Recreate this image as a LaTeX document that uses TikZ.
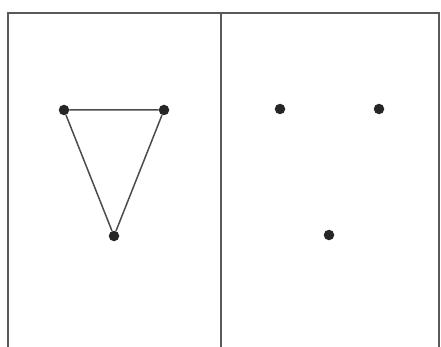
\documentclass[tikz,border=0pt]{standalone}
\begin{document}
\begin{tikzpicture}[x=1pt,y=-1pt,
  frame/.style={draw=black!65,line width=1.8pt},
  edge/.style={draw=black!70,line width=1.5pt},
  dot/.style={circle,fill=black!85,inner sep=0pt,minimum size=10.5pt}]
\useasboundingbox (0,0) rectangle (441,347);
\fill[white] (0,0) rectangle (441,347);
\coordinate (tl) at (8,13);
\coordinate (tr) at (439,13);
\coordinate (bl) at (8,350);
\coordinate (br) at (439,350);
\coordinate (mt) at (221,13);
\coordinate (mb) at (221,350);
\draw[frame] (bl) -- (tl) -- (tr) -- (br);
\draw[frame] (mt) -- (mb);
\node[dot] (a) at (64,110) {};
\node[dot] (b) at (164,110) {};
\node[dot] (c) at (114,236) {};
\draw[edge] (a) -- (b) -- (c) -- (a);
\node[dot] (d) at (280,109) {};
\node[dot] (e) at (379,109) {};
\node[dot] (f) at (329,235) {};
\end{tikzpicture}
\end{document}
